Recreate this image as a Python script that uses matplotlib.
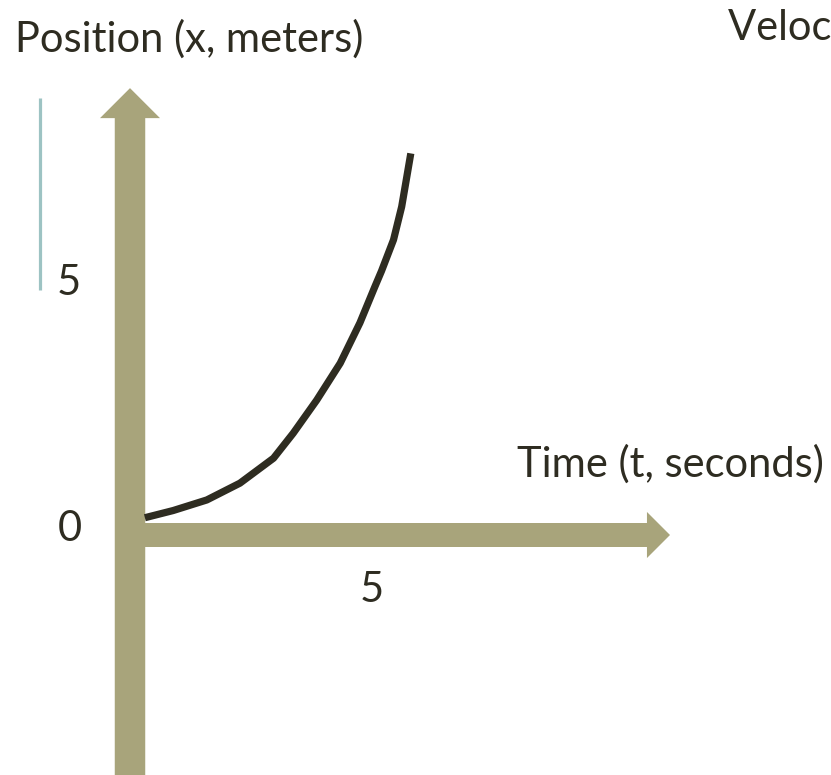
import numpy as np
import matplotlib
matplotlib.use("Agg")
import matplotlib.pyplot as plt

plt.rcParams["font.family"] = ["Lato", "DejaVu Sans"]

# curve (t in seconds, x in meters, plot units)
t_vals = [0.31, 0.90, 1.60, 2.29, 2.99, 3.40, 3.89, 4.38, 4.79, 5.10, 5.24, 5.49, 5.66, 5.78, 5.85]
x_vals = [0.36, 0.51, 0.73, 1.08, 1.60, 2.12, 2.81, 3.58, 4.42, 5.17, 5.50, 6.15, 6.84, 7.54, 7.95]
x_ticks = ["5"]
y_ticks = ["0", "5"]

axis_col = "#A8A47B"
curve_col = "#2E2C21"
text_col = "#2E2C21"
teal = "#9DC3C3"

fig = plt.figure(figsize=(8.31, 7.75), dpi=100)
ax = fig.add_axes([0, 0, 1, 1])
ax.set_xlim(-130 / 48, 701 / 48)
ax.set_ylim(-240 / 48, 535 / 48)
ax.axis("off")

# axes drawn as thick arrows
ax.arrow(0, -5.2, 0, 9.31 + 5.2, width=0.635, head_width=1.25, head_length=0.625,
         length_includes_head=True, color=axis_col, lw=0)
ax.arrow(0, 0, 11.25, 0, width=0.5, head_width=0.96, head_length=0.48,
         length_includes_head=True, color=axis_col, lw=0)

# teal marker line on the left
ax.plot([-1.875, -1.875], [5.10, 9.10], color=teal, lw=2.3, solid_capstyle="butt")

# position curve
ax.plot(t_vals, x_vals, color=curve_col, lw=5.2, solid_capstyle="butt", solid_joinstyle="round")

fs = 30
ax.text(-1.50, -0.125, y_ticks[0], fontsize=fs, color=text_col, va="baseline")
ax.text(-1.52, 5.0, y_ticks[1], fontsize=fs, color=text_col, va="baseline")
ax.text(4.79, -1.40, x_ticks[0], fontsize=fs, color=text_col, va="baseline")

fig.text(15 / 831, 1 - 52 / 775, "Position (x, meters)", fontsize=fs, color=text_col, va="baseline")
fig.text(517 / 831, 1 - 477 / 775, "Time (t, seconds)", fontsize=fs, color=text_col, va="baseline")
fig.text(728 / 831, 1 - 40 / 775, "Velocity (v, meters/second)", fontsize=fs, color=text_col, va="baseline")

fig.savefig("out.png", dpi=100, facecolor="white")
